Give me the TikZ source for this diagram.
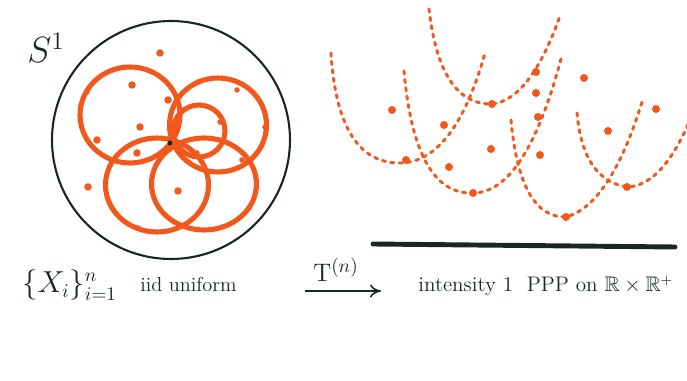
\documentclass[tikz,border=0pt]{standalone}
\usepackage{amssymb}
\usetikzlibrary{arrows.meta,positioning,calc}
\definecolor{marker}{RGB}{242,88,28}
\definecolor{ink}{RGB}{22,40,32}
\tikzset{
  >={To[length=2.2mm,width=2.6mm]},
  ring/.style={draw=marker,line width=2.9pt},
  trail/.style={draw=marker,line width=1.7pt,line cap=round,dash pattern=on 1.8pt off 3pt},
  hand/.style={font=\fontsize{#1}{15}\selectfont,text=ink,anchor=base west,inner sep=0pt},
  hand/.default=12,
}
\begin{document}
\begin{tikzpicture}[x=0.02cm,y=-0.02cm]
  \useasboundingbox (0,0) rectangle (687,381);
  % the circle S^1 with its arcs
  \node[font=\fontsize{22}{24}\selectfont,text=ink,inner sep=0pt] (sone) at (46,48) {$S^1$};
  \draw[ink,line width=1.2pt] (171,140) circle (2.38cm);
  \draw[ring] (130,115) ellipse [x radius=1cm,y radius=0.96cm];
  \draw[ring] (218,125) ellipse [x radius=0.97cm,y radius=0.94cm];
  \draw[ring] (199,131) circle (0.52cm);
  \draw[ring] (157,185) ellipse [x radius=1.03cm,y radius=0.94cm];
  \draw[ring] (204,184) ellipse [x radius=1.05cm,y radius=0.92cm];
  \foreach \x/\y in {160/53,132/85,168/100,140/127,97/140,137/153,88/187,178/191}
    \fill[marker] (\x,\y) circle (0.075cm);
  \foreach \x/\y in {198/82,237/90,220/122,265/127,197/153,242/160,138/228,87/92}
    \fill[marker] (\x,\y) circle (0.055cm);
  \fill[ink] (170,143) circle (0.05cm);
  % the point process and its curves (quadratic arms)
  \foreach \l/\cl/\v/\cr/\r in {
      {331,53}/{338,165}/{402,163}/{455,160}/{485,53},
      {404,71}/{415,195}/{473,193}/{525,193}/{561,59},
      {429,9}/{440,105}/{492,104}/{530,100}/{560,16},
      {511,120}/{520,218}/{566,217}/{610,205}/{642,102},
      {577,113}/{583,180}/{627,187}/{662,186}/{690,120}}
    \draw[trail] (\l) .. controls ($(\l)!0.667!(\cl)$) and ($(\v)!0.667!(\cl)$) .. (\v)
      .. controls ($(\v)!0.667!(\cr)$) and ($(\r)!0.667!(\cr)$) .. (\r);
  \foreach \x/\y in {406/160,473/193,566/217,627/187,492/104,392/110,444/125,491/149,449/167,
    536/93,538/117,540/155,584/78,608/131,656/109,536/72}
    \fill[marker] (\x,\y) circle (0.08cm);
  \draw[ink,line width=2.8pt,line cap=round] (373,244) -- (675,247);
  % captions
  \node[hand=16] (pts) at (22,293) {$\{X_i\}_{i=1}^{n}$};
  \node[hand=11.5] (iid) at (140,292) {iid uniform};
  \node[hand=12] (ppp) at (418,292) {intensity 1\ \ PPP on $\mathbb{R}\times\mathbb{R}^{+}$};
  \coordinate (from) at (305,291);
  \coordinate (to) at (381,291);
  \draw[->,ink,line width=0.9pt] (from) -- (to);
  \node[font=\fontsize{15}{17}\selectfont,text=ink,inner sep=0pt,anchor=base] (map) at (336,282) {$\mathrm{T}^{(n)}$};
\end{tikzpicture}
\end{document}
